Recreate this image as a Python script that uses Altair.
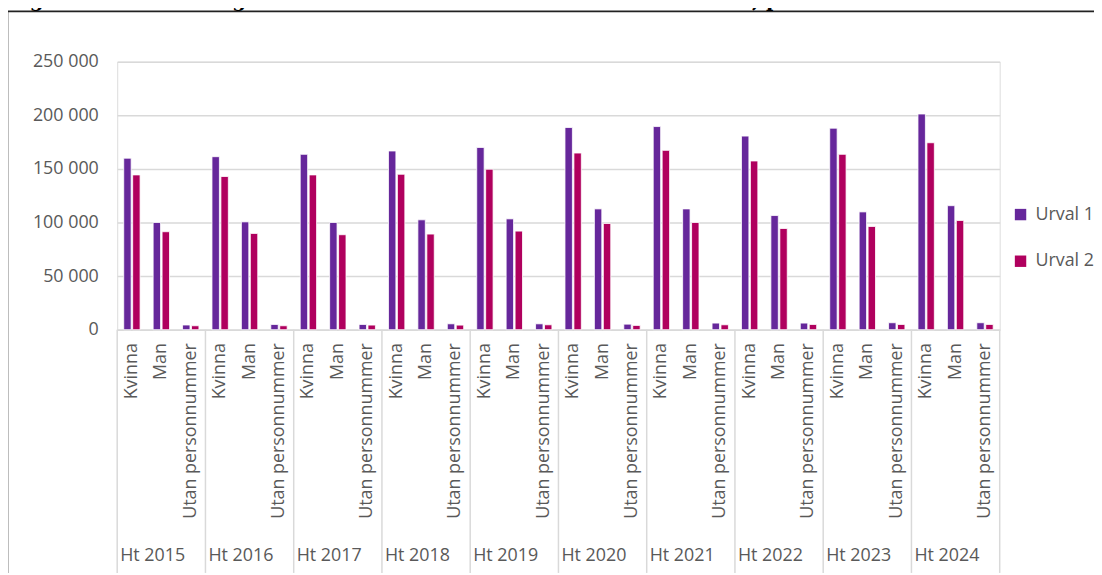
import altair as alt
import pandas as pd

years = ["Ht 2015", "Ht 2016", "Ht 2017", "Ht 2018", "Ht 2019",
         "Ht 2020", "Ht 2021", "Ht 2022", "Ht 2023", "Ht 2024"]
genders = ["Kvinna", "Man", "Utan personnummer"]
series_names = ["Urval 1", "Urval 2"]

urval1_kvinna = [160000, 161400, 163600, 166700, 170000, 188600, 189500, 180600, 188000, 201200]
urval2_kvinna = [144400, 142900, 144400, 145000, 149700, 164800, 167300, 157400, 163600, 174400]
urval1_man = [100000, 100600, 100000, 102500, 103400, 112700, 112700, 106500, 109900, 115700]
urval2_man = [91400, 89800, 88600, 89200, 92000, 99100, 100000, 94400, 96300, 101900]
urval1_utan = [4400, 4900, 4900, 5500, 5500, 5200, 6200, 6200, 6500, 6500]
urval2_utan = [3700, 3700, 4300, 4300, 4600, 4000, 4600, 4900, 4900, 4900]

y_ticks = [0, 50000, 100000, 150000, 200000, 250000]
title_text = "Figur 16. Antal antagna i första och andra urvalet ht 2015–ht 2024, per kön"

colors = ["#66279B", "#B0005E"]
grey_text = "#595959"
grid_col = "#D9D9D9"
FONT = "Open Sans"

values = {
    ("Urval 1", "Kvinna"): urval1_kvinna,
    ("Urval 2", "Kvinna"): urval2_kvinna,
    ("Urval 1", "Man"): urval1_man,
    ("Urval 2", "Man"): urval2_man,
    ("Urval 1", "Utan personnummer"): urval1_utan,
    ("Urval 2", "Utan personnummer"): urval2_utan,
}

keys = [f"{y}|{g}" for y in years for g in genders]
rows = []
for i, y in enumerate(years):
    for g in genders:
        for s in series_names:
            rows.append({"key": f"{y}|{g}", "series": s, "value": values[(s, g)][i]})
df = pd.DataFrame(rows)

sep_df = pd.DataFrame({"key": [f"{y}|Kvinna" for y in years], "year": years})
end_df = pd.DataFrame({"key": [f"{years[-1]}|Utan personnummer"]})

# layout (plot area origin is at page x=118, y=60)
PLOT_W, PLOT_H = 889, 270
PAD_L, PAD_T = 110, 52
PAD_R = 1094 - PAD_L - PLOT_W
PAD_B = 567 - PAD_T - PLOT_H
BOTTOM_EDGE = 575 - 60   # page bottom in plot coordinates
RIGHT_EDGE = 1102 - 118  # page right in plot coordinates

xscale = alt.Scale(domain=keys, paddingInner=0, paddingOuter=0)

bars = alt.Chart(df).mark_bar(stroke="white", strokeWidth=0.8).encode(
    x=alt.X("key:N", scale=xscale,
            axis=alt.Axis(title=None, labelExpr="split(datum.value, '|')[1]",
                          labelAngle=-90, labelFontSize=18, labelFont=FONT,
                          labelColor=grey_text, ticks=False, domainColor=grid_col,
                          domainWidth=1.5, labelPadding=13, grid=False,
                          labelOverlap=False, labelBound=False)),
    xOffset=alt.XOffset("series:N", scale=alt.Scale(domain=series_names,
                                                     paddingInner=0.17, paddingOuter=0.73)),
    y=alt.Y("value:Q", scale=alt.Scale(domain=[0, 250000], nice=False),
            axis=alt.Axis(title=None, values=y_ticks,
                          labelExpr="replace(format(datum.value, ','), ',', ' ')",
                          domain=False, ticks=False, gridColor=grid_col, gridWidth=1.5,
                          labelPadding=19, labelFontSize=18, labelFont=FONT,
                          labelColor=grey_text)),
    color=alt.Color("series:N", scale=alt.Scale(domain=series_names, range=colors),
                    legend=alt.Legend(title=None, orient="none", legendX=901, legendY=145,
                                      symbolType="square", symbolSize=132,
                                      symbolStrokeWidth=0,
                                      labelFontSize=18, labelFont=FONT,
                                      labelColor=grey_text, rowPadding=29,
                                      labelOffset=6, padding=0)),
)

seps = alt.Chart(sep_df).mark_rule(color=grid_col, strokeWidth=1.5).encode(
    x=alt.X("key:N", scale=xscale, bandPosition=0),
    y=alt.value(PLOT_H), y2=alt.value(BOTTOM_EDGE),
)
end_sep = alt.Chart(end_df).mark_rule(color=grid_col, strokeWidth=1.5).encode(
    x=alt.X("key:N", scale=xscale, bandPosition=1),
    y=alt.value(PLOT_H), y2=alt.value(BOTTOM_EDGE),
)
year_labels = alt.Chart(sep_df).mark_text(
    align="left", baseline="alphabetic", dx=3, font=FONT, fontSize=18, color=grey_text
).encode(
    x=alt.X("key:N", scale=xscale, bandPosition=0),
    y=alt.value(503),
    text="year:N",
)

frame_top = alt.Chart(alt.Data(values=[{}])).mark_rule(color="#222222", strokeWidth=1.6).encode(
    x=alt.value(-110.5), x2=alt.value(RIGHT_EDGE), y=alt.value(-50.7),
)
frame_left = alt.Chart(alt.Data(values=[{}])).mark_rule(color="#222222", strokeWidth=1.6).encode(
    x=alt.value(-110.5), y=alt.value(-50.7), y2=alt.value(BOTTOM_EDGE),
)

title = alt.Chart(alt.Data(values=[{}])).mark_text(
    text=title_text, align="left", baseline="alphabetic", font="DejaVu Serif",
    fontWeight="bold", fontSize=20, color="black"
).encode(x=alt.value(-110), y=alt.value(-55))

chart = alt.layer(frame_top, frame_left, seps, end_sep, bars, year_labels, title).properties(
    width=PLOT_W, height=PLOT_H,
    autosize=alt.AutoSizeParams(type="none"),
    padding={"left": PAD_L, "top": PAD_T, "right": PAD_R, "bottom": PAD_B},
    background="white",
).configure_view(stroke=None).configure(font=FONT)

chart.save("out.html", embed_options={"renderer": "svg", "actions": False})
